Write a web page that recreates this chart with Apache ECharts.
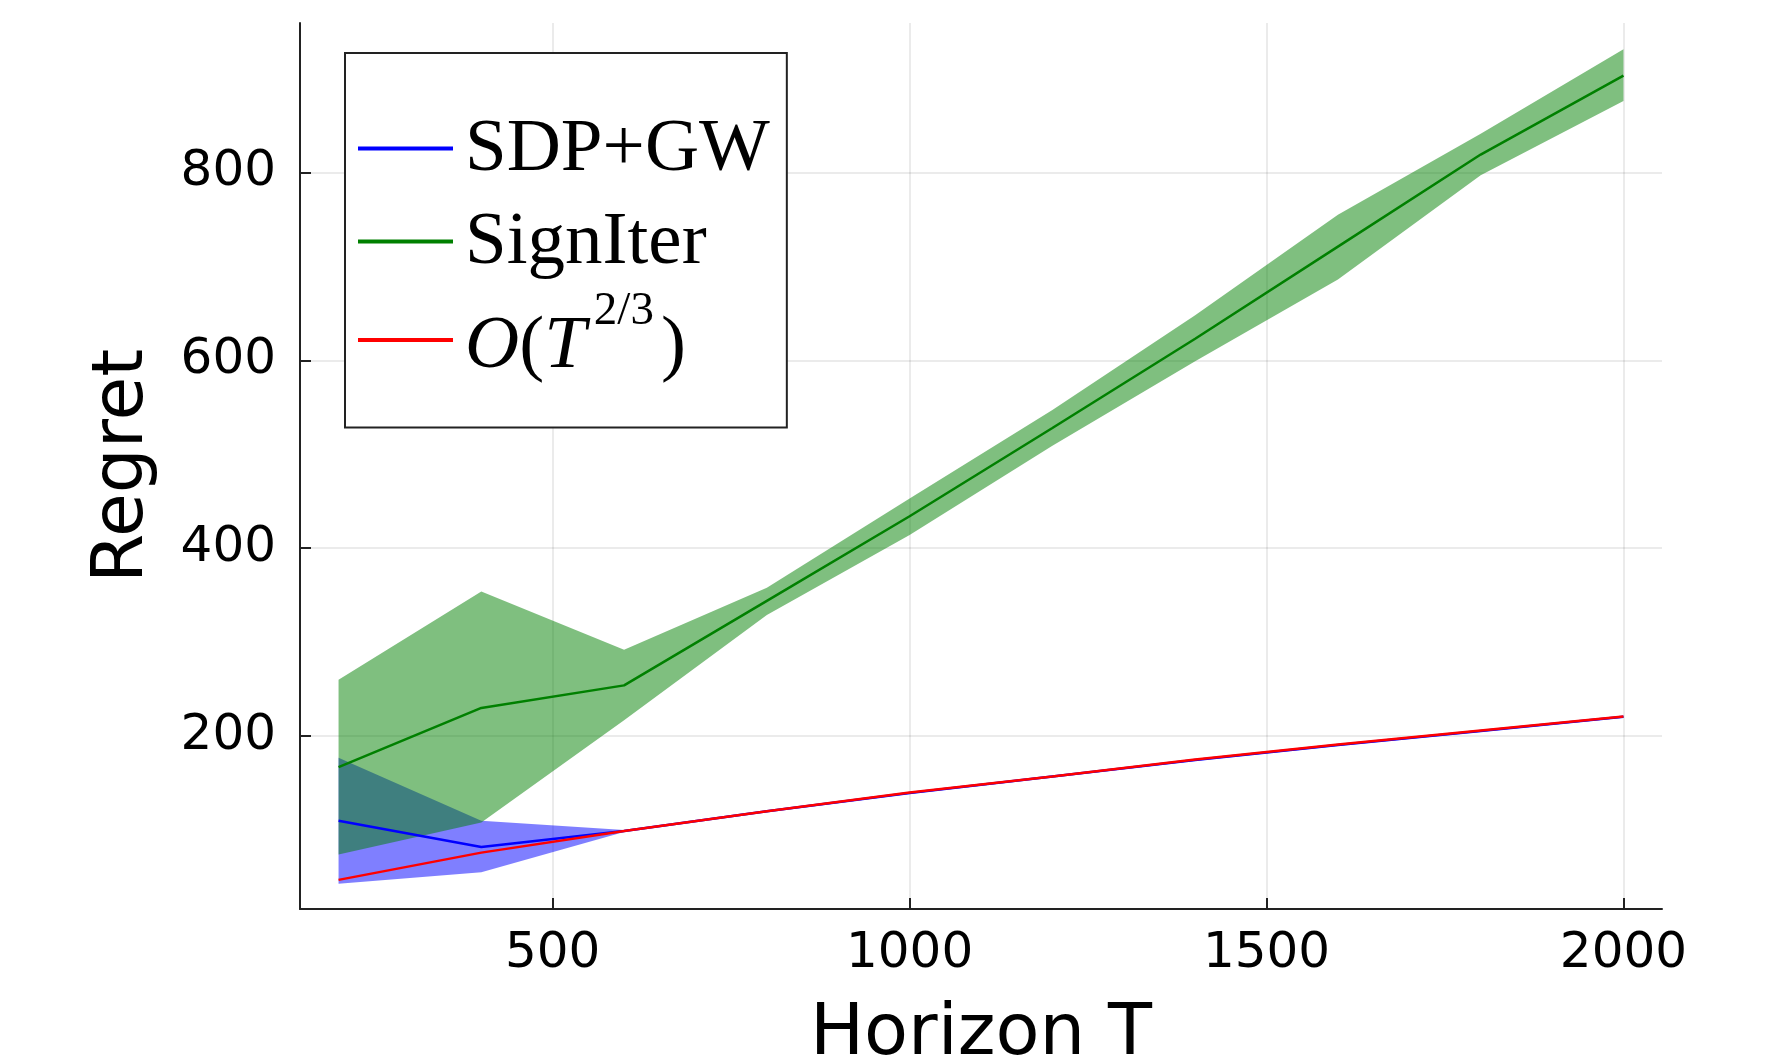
<!DOCTYPE html>
<html>
<head>
<meta charset="utf-8">
<script src="https://cdn.jsdelivr.net/npm/echarts@6/dist/echarts.min.js"></script>
<style>
html,body{margin:0;padding:0;background:#fff;}
#c{width:1769px;height:1064px;}
</style>
</head>
<body>
<div id="c"></div>
<script>
// Horizon values
const horizon = [200, 400, 600, 800, 1000, 1200, 1400, 1600, 1800, 2000];
// SDP+GW mean and band
const sdpMean = [110, 82, 99, 120, 139.5, 157, 174.5, 190.5, 205.5, 220.5];
const sdpLow  = [43, 55, 98, 119, 138.5, 156, 173.5, 189.5, 204.5, 219.5];
const sdpHigh = [177, 110, 100, 121, 140.5, 158, 175.5, 191.5, 206.5, 221.5];
// SignIter mean and band
const signMean = [167, 230, 254, 344, 434, 528, 623, 721, 819, 903];
const signLow  = [74, 108, 217, 329, 414, 509, 599, 686, 797, 876];
const signHigh = [260, 354, 292, 358, 453, 547, 648, 755, 841, 931];
// O(T^{2/3}) reference curve
const refCurve = [47, 76, 99, 120, 140, 157, 175, 191, 206, 221];
// tick labels
const xTicks = [500, 1000, 1500, 2000];
const yTicks = [200, 400, 600, 800];

const pts = (ys) => horizon.map((t, i) => [t, ys[i]]);

function bandSeries(name, lo, hi, fill) {
  return {
    type: 'custom', name: name, silent: true,
    data: horizon.map((t, i) => [t, lo[i], hi[i]]),
    encode: {x: 0, y: [1, 2]},
    renderItem: function (params, api) {
      if (params.dataIndex !== 0) return null;
      const upper = horizon.map((t, i) => api.coord([t, hi[i]]));
      const lower = horizon.map((t, i) => api.coord([t, lo[i]])).reverse();
      return {type: 'polygon', shape: {points: upper.concat(lower)}, style: {fill: fill}};
    }
  };
}

const names = ['SDP+GW', 'SignIter', 'O(T^{2/3})'];
const legendText = {
  'SDP+GW': '{r|SDP+GW}',
  'SignIter': '{r|SignIter}',
  'O(T^{2/3})': '{ri|O}{rb|(}{ri|T}{sup|2/3}{rb|)}'
};

const chart = echarts.init(document.getElementById('c'), null, {renderer: 'canvas'});

const axisLineStyle = {color: '#222', width: 2};
const gridLine = {show: true, lineStyle: {color: 'rgba(0,0,0,0.08)', width: 2}};
const LS = 'Liberation Serif';

const option = {
  animation: false,
  backgroundColor: '#fff',
  grid: {left: 300, right: 107, top: 23, bottom: 155, containLabel: false, outerBoundsMode: 'none'},
  xAxis: {
    type: 'value', min: 146, max: 2054,
    name: 'Horizon T', nameLocation: 'middle', nameGap: 90,
    nameTextStyle: {fontFamily: 'DejaVu Sans', fontSize: 72, color: '#000'},
    axisLine: {show: true, onZero: false, lineStyle: axisLineStyle},
    axisTick: {show: true, inside: true, length: 11, lineStyle: axisLineStyle, customValues: xTicks},
    axisLabel: {fontFamily: 'DejaVu Sans', fontSize: 50, color: '#000', margin: 20,
                customValues: xTicks, formatter: (v) => String(v)},
    splitLine: gridLine
  },
  yAxis: {
    type: 'value', min: 16, max: 959,
    name: 'Regret', nameLocation: 'middle', nameGap: 141,
    nameTextStyle: {fontFamily: 'DejaVu Sans', fontSize: 71, color: '#000'},
    axisLine: {show: true, onZero: false, lineStyle: axisLineStyle},
    axisTick: {show: true, inside: true, length: 11, lineStyle: axisLineStyle, customValues: yTicks},
    axisLabel: {fontFamily: 'DejaVu Sans', fontSize: 50, color: '#000', margin: 24,
                customValues: yTicks, formatter: (v) => String(v)},
    splitLine: gridLine
  },
  legend: {
    left: 345, top: 53, orient: 'vertical',
    data: names.map(n => ({name: n, icon: 'rect'})),
    itemWidth: 95, itemHeight: 4, itemGap: 0,
    padding: [49, 17, 41, 13],
    backgroundColor: '#fff', borderColor: '#222', borderWidth: 2, borderRadius: 0,
    selectedMode: false,
    formatter: (n) => legendText[n],
    textStyle: {
      color: '#000',
      backgroundColor: 'rgba(255,255,255,0)',
      padding: [0, 0, 0, 7],
      rich: {
        r: {fontFamily: LS, fontSize: 75, height: 73, lineHeight: 93, padding: [12, 0, 8, 0], color: '#000'},
        ri: {fontFamily: LS, fontStyle: 'italic', fontSize: 75, height: 78, lineHeight: 78, verticalAlign: 'bottom', color: '#000'},
        rb: {fontFamily: LS, fontSize: 75, height: 78, lineHeight: 78, verticalAlign: 'bottom', color: '#000'},
        sup: {fontFamily: LS, fontSize: 47, height: 36, lineHeight: 93, padding: [0, 7, 57, 8], verticalAlign: 'top', color: '#000'}
      }
    }
  },
  series: [
    bandSeries('sdpBand', sdpLow, sdpHigh, 'rgba(0,0,255,0.5)'),
    {name: 'SDP+GW', type: 'line', data: pts(sdpMean), symbol: 'none', color: '#0000ff',
     lineStyle: {width: 2.5, color: '#0000ff'}},
    bandSeries('signBand', signLow, signHigh, 'rgba(0,128,0,0.5)'),
    {name: 'SignIter', type: 'line', data: pts(signMean), symbol: 'none', color: '#008000',
     lineStyle: {width: 2.5, color: '#008000'}},
    {name: 'O(T^{2/3})', type: 'line', data: pts(refCurve), symbol: 'none', color: '#ff0000',
     lineStyle: {width: 2.5, color: '#ff0000'}}
  ]
};
chart.setOption(option);
</script>
</body>
</html>
